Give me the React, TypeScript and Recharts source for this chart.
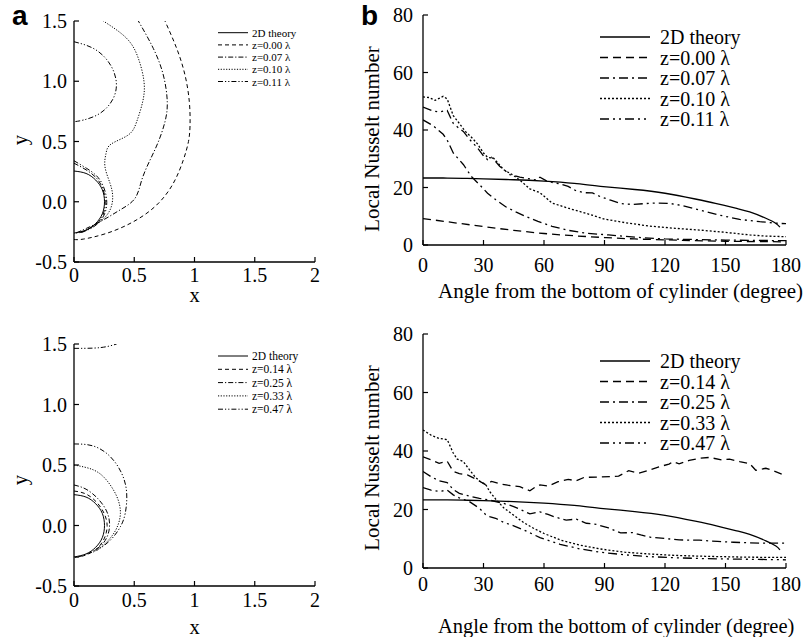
import React from "react";
import { LineChart, Line, XAxis, YAxis, Legend, Label } from "recharts";

const SERIF = "'Liberation Serif', 'Times New Roman', serif";
const SANS = "'Liberation Sans', Arial, sans-serif";

// ---------- panel a: isolines in the x-y plane ----------
const contourXTicks = [0, 0.5, 1, 1.5, 2];
const contourXLabels = ["0", "0.5", "1", "1.5", "2"];
const contourYTicks = [-0.5, 0, 0.5, 1, 1.5];
const contourYLabels = ["-0.5", "0.0", "0.5", "1.0", "1.5"];

const theory2DContour = [[0, 0.255], [0.1, 0.235], [0.18, 0.18], [0.235, 0.1], [0.253, 0.0], [0.235, -0.1], [0.18, -0.18], [0.1, -0.235], [0, -0.26]];

const z000Contour = [[0, -0.313], [0.077, -0.31], [0.271, -0.262], [0.492, -0.166], [0.686, -0.027], [0.824, 0.153], [0.907, 0.346], [0.95, 0.5], [0.963, 0.637], [0.957, 0.83], [0.921, 1.052], [0.852, 1.273], [0.755, 1.5]];
const z007Contour = [[0.022, -0.257], [0.105, -0.22], [0.243, -0.151], [0.382, -0.068], [0.506, 0.028], [0.562, 0.18], [0.631, 0.346], [0.7, 0.498], [0.755, 0.664], [0.774, 0.83], [0.741, 1.052], [0.658, 1.273], [0.534, 1.5]];
const z007Inner = [[0, 0.32], [0.1, 0.265], [0.2, 0.18], [0.255, 0.05], [0.25, -0.08], [0.19, -0.18], [0.08, -0.245], [0.02, -0.26]];
const z010Contour = [[0.077, -0.248], [0.216, -0.166], [0.299, -0.068], [0.321, 0.042], [0.299, 0.153], [0.257, 0.291], [0.266, 0.402], [0.31, 0.48], [0.45, 0.554], [0.52, 0.664], [0.57, 0.83], [0.581, 0.996], [0.534, 1.19], [0.437, 1.356], [0.243, 1.5]];
const z011Upper = [[0, 1.328], [0.16, 1.273], [0.285, 1.162], [0.349, 1.01], [0.326, 0.858], [0.216, 0.734], [0.077, 0.678], [0, 0.664]];
const z011Lower = [[0, 0.34], [0.105, 0.277], [0.216, 0.18], [0.271, 0.015], [0.243, -0.124], [0.16, -0.21], [0.05, -0.26]];

const z014Contour = [[0, 0.285], [0.1, 0.26], [0.19, 0.19], [0.25, 0.1], [0.275, 0.0], [0.25, -0.11], [0.18, -0.2], [0.08, -0.25], [0, -0.265]];
const z025Contour = [[0, 0.335], [0.1, 0.3], [0.2, 0.22], [0.27, 0.12], [0.295, 0.02], [0.28, -0.08], [0.22, -0.17], [0.12, -0.23], [0.03, -0.262]];
const z033Contour = [[0, 0.5], [0.16, 0.46], [0.27, 0.375], [0.355, 0.24], [0.385, 0.1], [0.355, -0.02], [0.3, -0.105], [0.23, -0.175], [0.16, -0.22]];
const z047Contour = [[0, 0.674], [0.16, 0.657], [0.3, 0.57], [0.396, 0.43], [0.437, 0.27], [0.425, 0.1], [0.385, -0.01], [0.326, -0.095], [0.257, -0.16], [0.19, -0.205]];
const z047Top = [[0, 1.464], [0.16, 1.466], [0.27, 1.478], [0.354, 1.5]];

// ---------- panel b: local Nusselt number vs angle ----------
const angleTicks = [0, 30, 60, 90, 120, 150, 180];
const nuTicks = [0, 20, 40, 60, 80];

const theory2D = [[0, 23.3], [10, 23.3], [20, 23.2], [30, 23.0], [45, 22.7], [60, 22.2], [75, 21.4], [88, 20.4], [105, 19.3], [120, 18.0], [135, 16.0], [145, 14.5], [155, 12.8], [162, 11.5], [170, 9.3], [175, 7.5], [177, 6.2]];

const z000Nu = [[0, 9.2], [15, 7.8], [30, 6.4], [45, 5.1], [60, 4.0], [75, 3.2], [90, 2.6], [105, 2.1], [120, 1.8], [135, 1.5], [150, 1.3], [165, 1.2], [180, 1.1]];
const z007Nu = [[0, 43.5], [5, 41.5], [10, 38.5], [12, 36.5], [15, 32], [20, 28], [24, 23.8], [28, 21], [32, 18], [36, 15.8], [41, 13.3], [46, 11.5], [51, 9.9], [57, 8.2], [64, 6.5], [72, 5.1], [81, 4.1], [92, 3.5], [100, 3.0], [110, 2.5], [120, 2.1], [135, 1.9], [150, 1.7], [165, 1.6], [180, 1.5]];
const z010Nu = [[0, 51.5], [3, 51.3], [6, 50.3], [8, 51], [10, 51.7], [12, 50.8], [15, 45], [18, 42.3], [21, 39.5], [24, 37.5], [27, 35.2], [30, 32], [32, 30.5], [35, 30.2], [37, 28.6], [40, 26.2], [44, 24.6], [48, 22.6], [53, 19.5], [58, 18.2], [64, 14.6], [72, 12.8], [81, 11], [90, 9.0], [100, 7.8], [112, 6.6], [125, 5.8], [137, 5.2], [150, 4.4], [162, 3.5], [170, 3.1], [180, 2.9]];
const z011Nu = [[0, 48], [5, 46.6], [8, 46.3], [12, 46.8], [15, 42.3], [18, 40.5], [20, 39.5], [23, 36.8], [27, 33.8], [30, 31], [32, 29.7], [34, 30.5], [36, 29], [38, 27.4], [40, 26.3], [43, 24.5], [48, 23.6], [52, 23.1], [56, 22.6], [58, 23.6], [61, 22.4], [65, 21.6], [68, 21.3], [72, 20.4], [76, 18.8], [80, 18.2], [84, 18.1], [88, 16.8], [93, 15.6], [98, 14.4], [104, 14.1], [110, 14.4], [116, 14.6], [122, 14.5], [128, 13.8], [137, 12.2], [147, 10.4], [157, 8.9], [167, 8.1], [177, 7.5], [180, 7.4]];

const z014Nu = [[0, 38], [4, 37], [8, 35.8], [12, 36.5], [15, 33], [18, 32.3], [22, 31.8], [27, 30.1], [31, 28.5], [34, 29.6], [38, 28.8], [42, 28.3], [48, 27.8], [53, 26.4], [56, 27.8], [58, 28.4], [62, 28], [67, 29.5], [72, 30.3], [76, 29.8], [80, 31], [88, 31.1], [97, 31.4], [102, 33.3], [107, 32.4], [112, 33.4], [117, 34.6], [122, 35.5], [124, 36.4], [127, 35.6], [132, 36.8], [137, 37.5], [142, 37.8], [148, 37], [152, 37.2], [157, 36.4], [162, 35.7], [165, 33.4], [170, 34.1], [174, 33.2], [180, 31.5]];
const z025Nu = [[0, 33], [4, 31.2], [8, 29.8], [12, 29.2], [15, 26.8], [18, 25.5], [23, 24.6], [28, 23.8], [33, 23.2], [40, 22.1], [45, 21], [48, 20.1], [53, 18.5], [58, 19.2], [62, 18.3], [65, 17.5], [71, 16.4], [76, 16.7], [81, 15.3], [86, 14.9], [92, 13.7], [98, 12], [104, 12.1], [108, 11.3], [113, 10.5], [120, 10.1], [127, 9.6], [137, 9.5], [146, 9.1], [154, 8.8], [167, 8.5], [180, 8.5]];
const z033Nu = [[0, 47.2], [4, 45.4], [8, 44.3], [12, 43.9], [15, 39.3], [17, 37.2], [20, 36.4], [23, 33.6], [26, 31], [29, 29.2], [31, 28.7], [33, 26.2], [36, 23.6], [40, 20.6], [45, 18], [50, 15.5], [55, 13.5], [60, 11.8], [68, 9.6], [78, 7.8], [88, 6.5], [100, 5.4], [112, 4.8], [125, 4.3], [140, 4], [160, 3.7], [180, 3.6]];
const z047Nu = [[0, 27.5], [4, 26.6], [8, 26.2], [12, 26.6], [15, 25], [18, 24], [23, 22.7], [28, 20.4], [31, 18.3], [33, 17.6], [36, 17], [40, 15.6], [45, 14.4], [50, 13], [58, 10.4], [68, 8.1], [78, 6.5], [88, 5.4], [100, 4.5], [112, 3.9], [125, 3.5], [140, 3.2], [160, 3], [180, 2.8]];

const topNames = ["2D theory", "z=0.00 λ", "z=0.07 λ", "z=0.10 λ", "z=0.11 λ"];
const bottomNames = ["2D theory", "z=0.14 λ", "z=0.25 λ", "z=0.33 λ", "z=0.47 λ"];

// line styles: solid, dashed, dash-dot, dotted, dash-dot-dot
const DASH_A = ["", "4 3", "5 2 1.2 2", "1.2 1.5", "5 2 1.2 2 1.2 2"];
const DASH_B = ["", "8 5", "9 4 2 4", "2 2", "9 4 2 4 2 4"];

const toXY = (pts: number[][]) => pts.map(([x, y]) => ({ x, y }));
const TICK_LEN = 5;

function labelFor(ticks: number[], labels: string[] | null, v: number) {
  if (!labels) return String(v);
  const i = ticks.indexOf(v);
  return i >= 0 ? labels[i] : String(v);
}

type PanelProps = {
  left: number;
  top: number;
  width: number;
  height: number;
  margin: { top: number; right: number; bottom: number; left: number };
  yWidth: number;
  xHeight: number;
  xDomain: number[];
  yDomain: number[];
  xTicks: number[];
  yTicks: number[];
  xLabels: string[] | null;
  yLabels: string[] | null;
  xTickDy: number;
  yTickGap: number;
  series: { pts: number[][]; style: number; curve: "natural" | "linear" }[];
  dashes: string[];
  strokeWidth: number;
  names: string[];
  legend: { left: number; top: number; w: number; h: number; x1: number; x2: number; tx: number; y0: number; gap: number; fontSize: number };
  xTitle: { text: string; x: number; y: number; anchor: "start" | "middle"; size: number };
  yTitle: { text: string; x: number; y: number; size: number };
};

function Panel(p: PanelProps) {
  const bottomTick = (props: any) => {
    const { x, y, payload } = props;
    return (
      <g>
        <line x1={x} x2={x} y1={y} y2={y - TICK_LEN} stroke="#000" strokeWidth={1.2} />
        <text x={x} y={y + p.xTickDy} textAnchor="middle" fontFamily={SERIF} fontSize={20} fill="#000">
          {labelFor(p.xTicks, p.xLabels, payload.value)}
        </text>
      </g>
    );
  };
  const leftTick = (props: any) => {
    const { x, y, payload } = props;
    return (
      <g>
        <line x1={x} x2={x + TICK_LEN} y1={y} y2={y} stroke="#000" strokeWidth={1.2} />
        <text x={x - p.yTickGap} y={y + 7} textAnchor="end" fontFamily={SERIF} fontSize={20} fill="#000">
          {labelFor(p.yTicks, p.yLabels, payload.value)}
        </text>
      </g>
    );
  };
  const topTick = (props: any) => {
    const { x, y } = props;
    return <line x1={x} x2={x} y1={y} y2={y + TICK_LEN} stroke="#000" strokeWidth={1.2} />;
  };
  const rightTick = (props: any) => {
    const { x, y } = props;
    return <line x1={x} x2={x - TICK_LEN} y1={y} y2={y} stroke="#000" strokeWidth={1.2} />;
  };
  const lg = p.legend;
  const legendContent = () => (
    <svg width={lg.w} height={lg.h} style={{ display: "block" }}>
      {p.names.map((n, i) => {
        const yy = lg.y0 + i * lg.gap;
        return (
          <g key={n}>
            <line x1={lg.x1} x2={lg.x2} y1={yy} y2={yy} stroke="#000" strokeWidth={p.strokeWidth} strokeDasharray={p.dashes[i]} />
            <text x={lg.tx} y={yy} dominantBaseline="central" fontFamily={SERIF} fontSize={lg.fontSize} fill="#000">
              {n}
            </text>
          </g>
        );
      })}
    </svg>
  );
  const axisLine = { stroke: "#000", strokeWidth: 1.3 };
  return (
    <div style={{ position: "absolute", left: p.left, top: p.top }}>
      <LineChart width={p.width} height={p.height} margin={p.margin}>
        <XAxis
          dataKey="x"
          type="number"
          domain={p.xDomain}
          ticks={p.xTicks}
          allowDataOverflow
          interval={0}
          height={p.xHeight}
          tickSize={0}
          tickMargin={0}
          tickLine={false}
          axisLine={axisLine}
          tick={bottomTick}
          label={
            <Label
              content={() => (
                <text x={p.xTitle.x} y={p.xTitle.y} textAnchor={p.xTitle.anchor} fontFamily={SERIF} fontSize={p.xTitle.size} fill="#000">
                  {p.xTitle.text}
                </text>
              )}
            />
          }
        />
        <XAxis
          xAxisId="top"
          orientation="top"
          dataKey="x"
          type="number"
          domain={p.xDomain}
          ticks={p.xTicks}
          allowDataOverflow
          interval={0}
          height={0}
          tickSize={0}
          tickMargin={0}
          tickLine={false}
          axisLine={axisLine}
          tick={topTick}
        />
        <YAxis
          type="number"
          domain={p.yDomain}
          ticks={p.yTicks}
          allowDataOverflow
          interval={0}
          width={p.yWidth}
          tickSize={0}
          tickMargin={0}
          tickLine={false}
          axisLine={axisLine}
          tick={leftTick}
          label={
            <Label
              content={() => (
                <text
                  x={p.yTitle.x}
                  y={p.yTitle.y}
                  transform={`rotate(-90 ${p.yTitle.x} ${p.yTitle.y})`}
                  textAnchor="middle"
                  dominantBaseline="central"
                  fontFamily={SERIF}
                  fontSize={p.yTitle.size}
                  fill="#000"
                >
                  {p.yTitle.text}
                </text>
              )}
            />
          }
        />
        <YAxis
          yAxisId="right"
          orientation="right"
          type="number"
          domain={p.yDomain}
          ticks={p.yTicks}
          allowDataOverflow
          interval={0}
          width={0}
          tickSize={0}
          tickMargin={0}
          tickLine={false}
          axisLine={axisLine}
          tick={rightTick}
        />
        <Legend
          layout="vertical"
          align="center"
          verticalAlign="middle"
          wrapperStyle={{ left: lg.left, top: lg.top, width: lg.w, height: lg.h }}
          content={legendContent}
        />
        {p.series.map((s, i) => (
          <Line
            key={i}
            data={toXY(s.pts)}
            dataKey="y"
            type={s.curve}
            stroke="#000"
            strokeWidth={p.strokeWidth}
            strokeDasharray={p.dashes[s.style]}
            dot={false}
            activeDot={false}
            legendType="none"
            isAnimationActive={false}
          />
        ))}
      </LineChart>
    </div>
  );
}

export default function App() {
  return (
    <div style={{ position: "absolute", left: 0, top: 0, width: 803, height: 637, background: "#fff", overflow: "hidden" }}>
      <Panel
        left={0}
        top={0}
        width={400}
        height={310}
        margin={{ top: 21, right: 85, bottom: 8, left: 0 }}
        yWidth={74}
        xHeight={40}
        xDomain={[0, 2]}
        yDomain={[-0.5, 1.5]}
        xTicks={contourXTicks}
        yTicks={contourYTicks}
        xLabels={contourXLabels}
        yLabels={contourYLabels}
        xTickDy={20}
        yTickGap={7}
        dashes={DASH_A}
        strokeWidth={1}
        names={topNames}
        series={[
          { pts: theory2DContour, style: 0, curve: "natural" },
          { pts: z000Contour, style: 1, curve: "natural" },
          { pts: z007Contour, style: 2, curve: "natural" },
          { pts: z007Inner, style: 2, curve: "natural" },
          { pts: z010Contour, style: 3, curve: "natural" },
          { pts: z011Upper, style: 4, curve: "natural" },
          { pts: z011Lower, style: 4, curve: "natural" },
        ]}
        legend={{ left: 210, top: 22, w: 120, h: 70, x1: 8, x2: 38, tx: 42, y0: 10.7, gap: 12.2, fontSize: 11 }}
        xTitle={{ text: "x", x: 194.5, y: 302, anchor: "middle", size: 20.5 }}
        yTitle={{ text: "y", x: 20, y: 140, size: 20.5 }}
      />
      <Panel
        left={360}
        top={0}
        width={443}
        height={310}
        margin={{ top: 15, right: 17, bottom: 25, left: 0 }}
        yWidth={63}
        xHeight={40}
        xDomain={[0, 180]}
        yDomain={[0, 80]}
        xTicks={angleTicks}
        yTicks={nuTicks}
        xLabels={null}
        yLabels={null}
        xTickDy={27}
        yTickGap={10}
        dashes={DASH_B}
        strokeWidth={1.3}
        names={topNames}
        series={[
          { pts: theory2D, style: 0, curve: "natural" },
          { pts: z000Nu, style: 1, curve: "natural" },
          { pts: z007Nu, style: 2, curve: "linear" },
          { pts: z010Nu, style: 3, curve: "linear" },
          { pts: z011Nu, style: 4, curve: "linear" },
        ]}
        legend={{ left: 230, top: 20, w: 213, h: 115, x1: 10, x2: 60, tx: 70, y0: 17, gap: 20.5, fontSize: 20 }}
        xTitle={{ text: "Angle from the bottom of cylinder (degree)", x: 78, y: 298, anchor: "start", size: 21 }}
        yTitle={{ text: "Local Nusselt number", x: 12, y: 139, size: 21 }}
      />
      <Panel
        left={0}
        top={320}
        width={400}
        height={317}
        margin={{ top: 24, right: 85, bottom: 6, left: 0 }}
        yWidth={74}
        xHeight={45}
        xDomain={[0, 2]}
        yDomain={[-0.5, 1.5]}
        xTicks={contourXTicks}
        yTicks={contourYTicks}
        xLabels={contourXLabels}
        yLabels={contourYLabels}
        xTickDy={21}
        yTickGap={7}
        dashes={DASH_A}
        strokeWidth={1}
        names={bottomNames}
        series={[
          { pts: theory2DContour, style: 0, curve: "natural" },
          { pts: z014Contour, style: 1, curve: "natural" },
          { pts: z025Contour, style: 2, curve: "natural" },
          { pts: z033Contour, style: 3, curve: "natural" },
          { pts: z047Contour, style: 4, curve: "natural" },
          { pts: z047Top, style: 4, curve: "natural" },
        ]}
        legend={{ left: 210, top: 24, w: 120, h: 75, x1: 8, x2: 38, tx: 42, y0: 12, gap: 13.3, fontSize: 11.5 }}
        xTitle={{ text: "x", x: 194.5, y: 314, anchor: "middle", size: 20.5 }}
        yTitle={{ text: "y", x: 20, y: 160, size: 20.5 }}
      />
      <Panel
        left={360}
        top={320}
        width={443}
        height={317}
        margin={{ top: 14, right: 17, bottom: 19, left: 0 }}
        yWidth={63}
        xHeight={50}
        xDomain={[0, 180]}
        yDomain={[0, 80]}
        xTicks={angleTicks}
        yTicks={nuTicks}
        xLabels={null}
        yLabels={null}
        xTickDy={23}
        yTickGap={10}
        dashes={DASH_B}
        strokeWidth={1.3}
        names={bottomNames}
        series={[
          { pts: theory2D, style: 0, curve: "natural" },
          { pts: z014Nu, style: 1, curve: "linear" },
          { pts: z025Nu, style: 2, curve: "linear" },
          { pts: z033Nu, style: 3, curve: "linear" },
          { pts: z047Nu, style: 4, curve: "linear" },
        ]}
        legend={{ left: 230, top: 24, w: 213, h: 115, x1: 10, x2: 60, tx: 70, y0: 17, gap: 20.5, fontSize: 20 }}
        xTitle={{ text: "Angle from the bottom of cylinder (degree)", x: 78, y: 313, anchor: "start", size: 20.5 }}
        yTitle={{ text: "Local Nusselt number", x: 12, y: 138, size: 21 }}
      />
      <div style={{ position: "absolute", left: 12, top: 0, fontFamily: SANS, fontWeight: 700, fontSize: 28, lineHeight: "32px" }}>a</div>
      <div style={{ position: "absolute", left: 361, top: 0, fontFamily: SANS, fontWeight: 700, fontSize: 28, lineHeight: "32px" }}>b</div>
    </div>
  );
}
